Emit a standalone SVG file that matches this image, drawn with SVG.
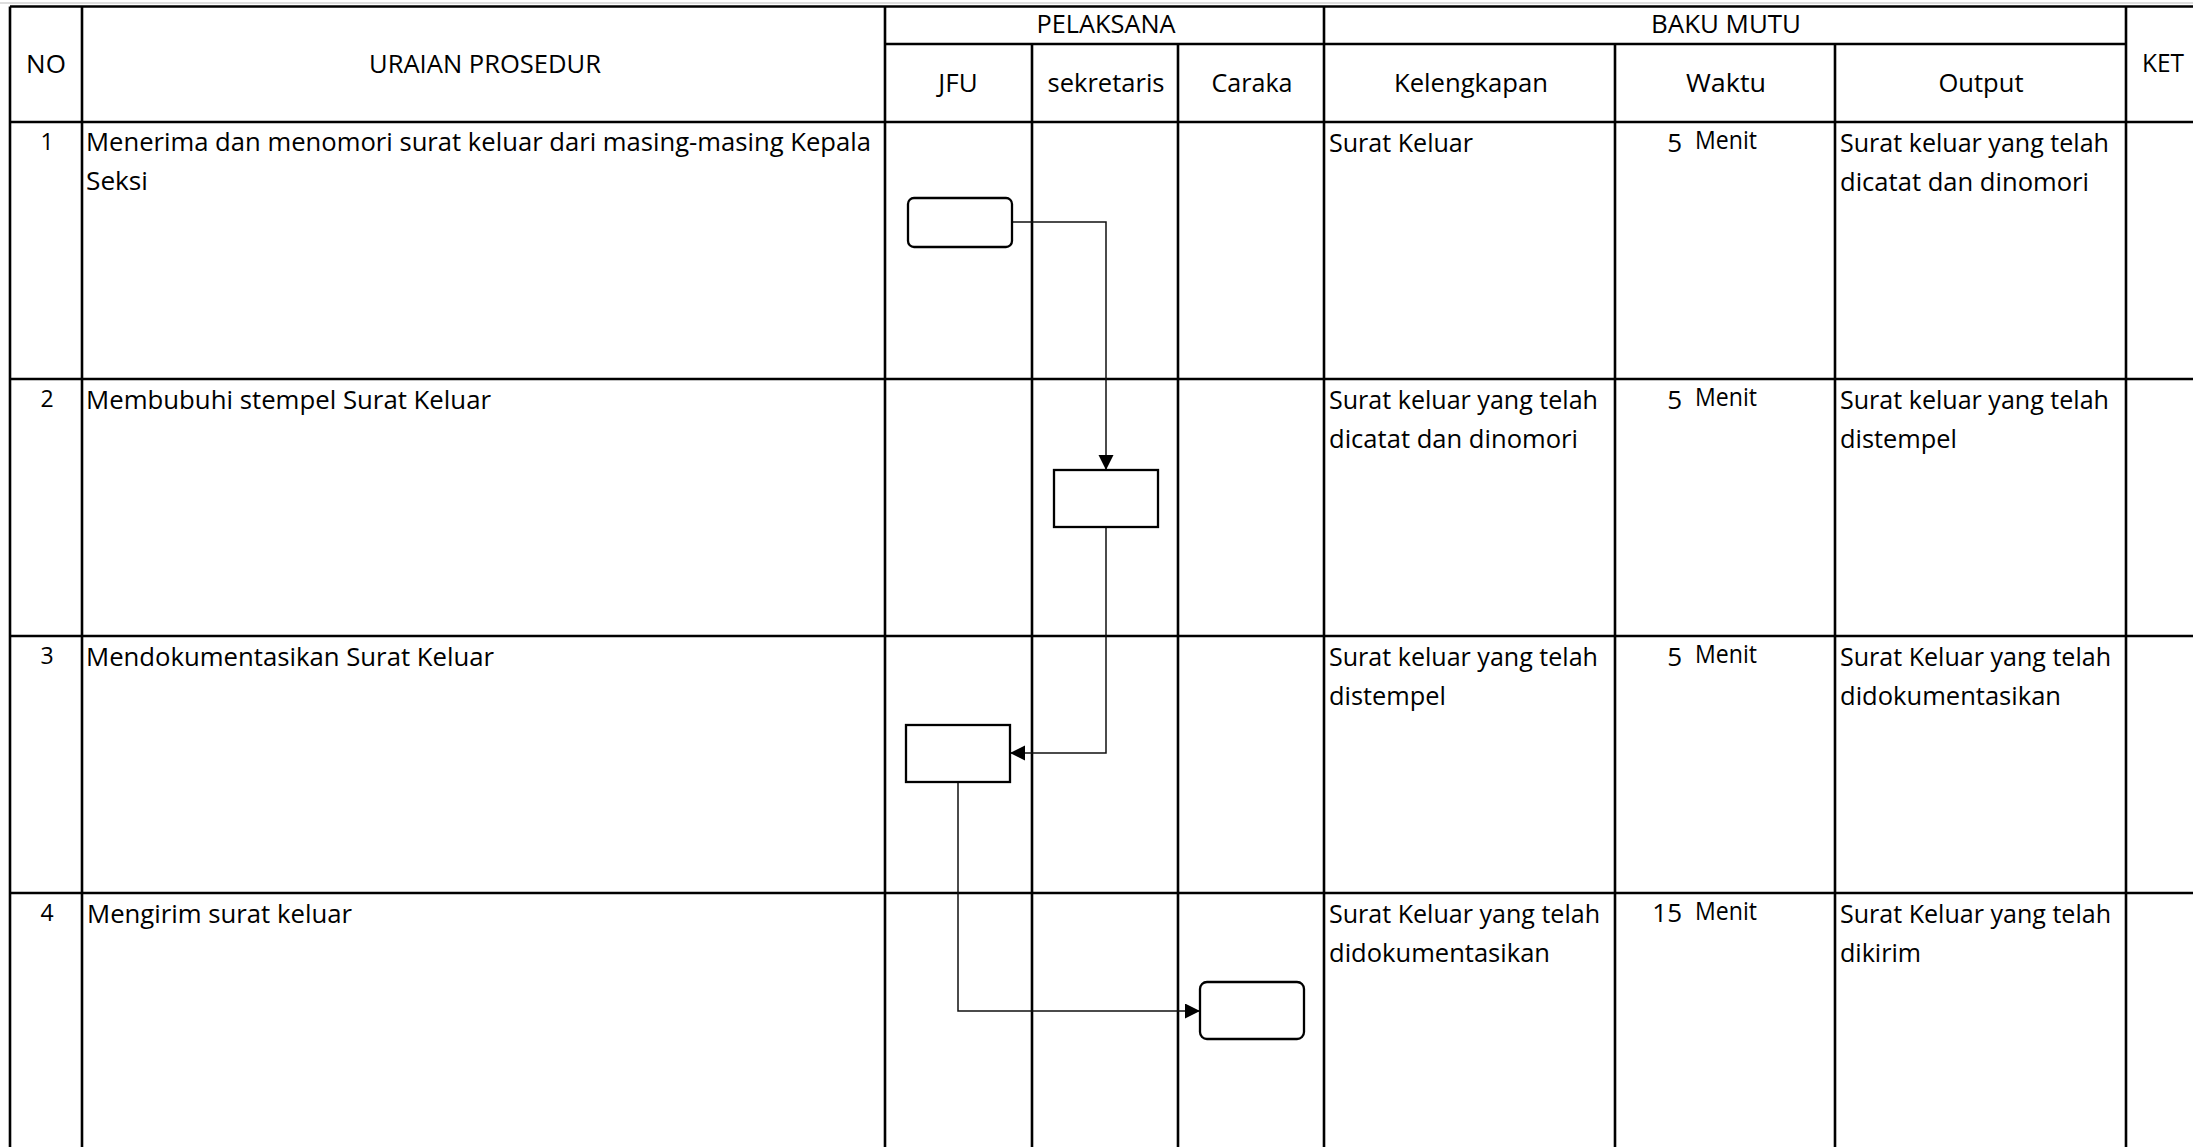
<svg xmlns="http://www.w3.org/2000/svg" width="2193" height="1147" viewBox="0 0 2193 1147">
<style>
text{font-family:"Open Sans","Lato","Liberation Sans",sans-serif;font-size:26px;fill:#000}
.c{text-anchor:middle}
.e{text-anchor:end}
.num{font-size:23px}
.grid{stroke:#000;stroke-width:2.6;fill:none}
.box{fill:#fff;stroke:#000;stroke-width:2.3}
.conn{fill:none;stroke:#111;stroke-width:1.5}
</style>
<defs>
<marker id="arr" markerUnits="userSpaceOnUse" markerWidth="16" markerHeight="16" refX="15" refY="7.5" orient="auto">
<path d="M0,0 L15,7.5 L0,15 z" fill="#000"/>
</marker>
</defs>
<rect width="2193" height="1147" fill="#fff"/>
<line x1="0" y1="3" x2="2193" y2="3" stroke="#bbb" stroke-width="1"/>
<g id="grid" class="grid">
<path d="M10,6.5H2193M10,122H2193M10,379H2193M10,636H2193M10,893H2193M885,44H2126"/>
<path d="M10,6.5V1147M82,6.5V1147M885,6.5V1147M1324,6.5V1147M2126,6.5V1147"/>
<path d="M1032,44V1147M1178,44V1147M1615,44V1147M1835,44V1147"/>
</g>
<g id="header">
<text class="c" x="46" y="73">NO</text>
<text class="c" x="485" y="73" textLength="232" lengthAdjust="spacingAndGlyphs">URAIAN PROSEDUR</text>
<text class="c" x="1106" y="33" textLength="139" lengthAdjust="spacingAndGlyphs">PELAKSANA</text>
<text class="c" x="1726" y="33" textLength="150" lengthAdjust="spacingAndGlyphs">BAKU MUTU</text>
<text x="2142" y="72" textLength="42" lengthAdjust="spacingAndGlyphs">KET</text>
<text class="c" x="958" y="91.5">JFU</text>
<text class="c" x="1106" y="91.5" textLength="117" lengthAdjust="spacingAndGlyphs">sekretaris</text>
<text class="c" x="1252" y="91.5" textLength="81" lengthAdjust="spacingAndGlyphs">Caraka</text>
<text class="c" x="1471" y="91.5" textLength="154" lengthAdjust="spacingAndGlyphs">Kelengkapan</text>
<text class="c" x="1726" y="91.5" textLength="80" lengthAdjust="spacingAndGlyphs">Waktu</text>
<text class="c" x="1981" y="91.5" textLength="85" lengthAdjust="spacingAndGlyphs">Output</text>
</g>
<g id="row1">
<text class="c num" x="47" y="149.5">1</text>
<text x="86" y="151" textLength="785" lengthAdjust="spacingAndGlyphs">Menerima dan menomori surat keluar dari masing-masing Kepala</text>
<text x="86" y="190" textLength="62" lengthAdjust="spacingAndGlyphs">Seksi</text>
<text x="1329" y="152" textLength="144" lengthAdjust="spacingAndGlyphs">Surat Keluar</text>
<text class="e" x="1682" y="151.5">5</text>
<text x="1695" y="149" textLength="62" lengthAdjust="spacingAndGlyphs">Menit</text>
<text x="1840" y="152" textLength="269" lengthAdjust="spacingAndGlyphs">Surat keluar yang telah</text>
<text x="1840" y="191" textLength="249" lengthAdjust="spacingAndGlyphs">dicatat dan dinomori</text>
</g>
<g id="row2">
<text class="c num" x="47" y="406.5">2</text>
<text x="86" y="408.5" textLength="405" lengthAdjust="spacingAndGlyphs">Membubuhi stempel Surat Keluar</text>
<text x="1329" y="409" textLength="269" lengthAdjust="spacingAndGlyphs">Surat keluar yang telah</text>
<text x="1329" y="448" textLength="249" lengthAdjust="spacingAndGlyphs">dicatat dan dinomori</text>
<text class="e" x="1682" y="408.5">5</text>
<text x="1695" y="406" textLength="62" lengthAdjust="spacingAndGlyphs">Menit</text>
<text x="1840" y="409" textLength="269" lengthAdjust="spacingAndGlyphs">Surat keluar yang telah</text>
<text x="1840" y="448" textLength="117" lengthAdjust="spacingAndGlyphs">distempel</text>
</g>
<g id="row3">
<text class="c num" x="47" y="663.5">3</text>
<text x="86" y="665.5" textLength="408" lengthAdjust="spacingAndGlyphs">Mendokumentasikan Surat Keluar</text>
<text x="1329" y="666" textLength="269" lengthAdjust="spacingAndGlyphs">Surat keluar yang telah</text>
<text x="1329" y="705" textLength="117" lengthAdjust="spacingAndGlyphs">distempel</text>
<text class="e" x="1682" y="665.5">5</text>
<text x="1695" y="663" textLength="62" lengthAdjust="spacingAndGlyphs">Menit</text>
<text x="1840" y="666" textLength="271" lengthAdjust="spacingAndGlyphs">Surat Keluar yang telah</text>
<text x="1840" y="705" textLength="221" lengthAdjust="spacingAndGlyphs">didokumentasikan</text>
</g>
<g id="row4">
<text class="c num" x="47" y="920.5">4</text>
<text x="87" y="922.5" textLength="265" lengthAdjust="spacingAndGlyphs">Mengirim surat keluar</text>
<text x="1329" y="923" textLength="271" lengthAdjust="spacingAndGlyphs">Surat Keluar yang telah</text>
<text x="1329" y="962" textLength="221" lengthAdjust="spacingAndGlyphs">didokumentasikan</text>
<text class="e" x="1682" y="922">15</text>
<text x="1695" y="920" textLength="62" lengthAdjust="spacingAndGlyphs">Menit</text>
<text x="1840" y="923" textLength="271" lengthAdjust="spacingAndGlyphs">Surat Keluar yang telah</text>
<text x="1840" y="962" textLength="81" lengthAdjust="spacingAndGlyphs">dikirim</text>
</g>
<g id="connectors" class="conn">
<path d="M1012,222H1106V470" marker-end="url(#arr)"/>
<path d="M1106,527V753H1010" marker-end="url(#arr)"/>
<path d="M958,782V1011H1200" marker-end="url(#arr)"/>
</g>
<g id="n1"><rect class="box" x="908" y="198" width="104" height="49" rx="6"/></g>
<g id="n2"><rect class="box" x="1054" y="470" width="104" height="57"/></g>
<g id="n3"><rect class="box" x="906" y="725" width="104" height="57"/></g>
<g id="n4"><rect class="box" x="1200" y="982" width="104" height="57" rx="7"/></g>
</svg>
